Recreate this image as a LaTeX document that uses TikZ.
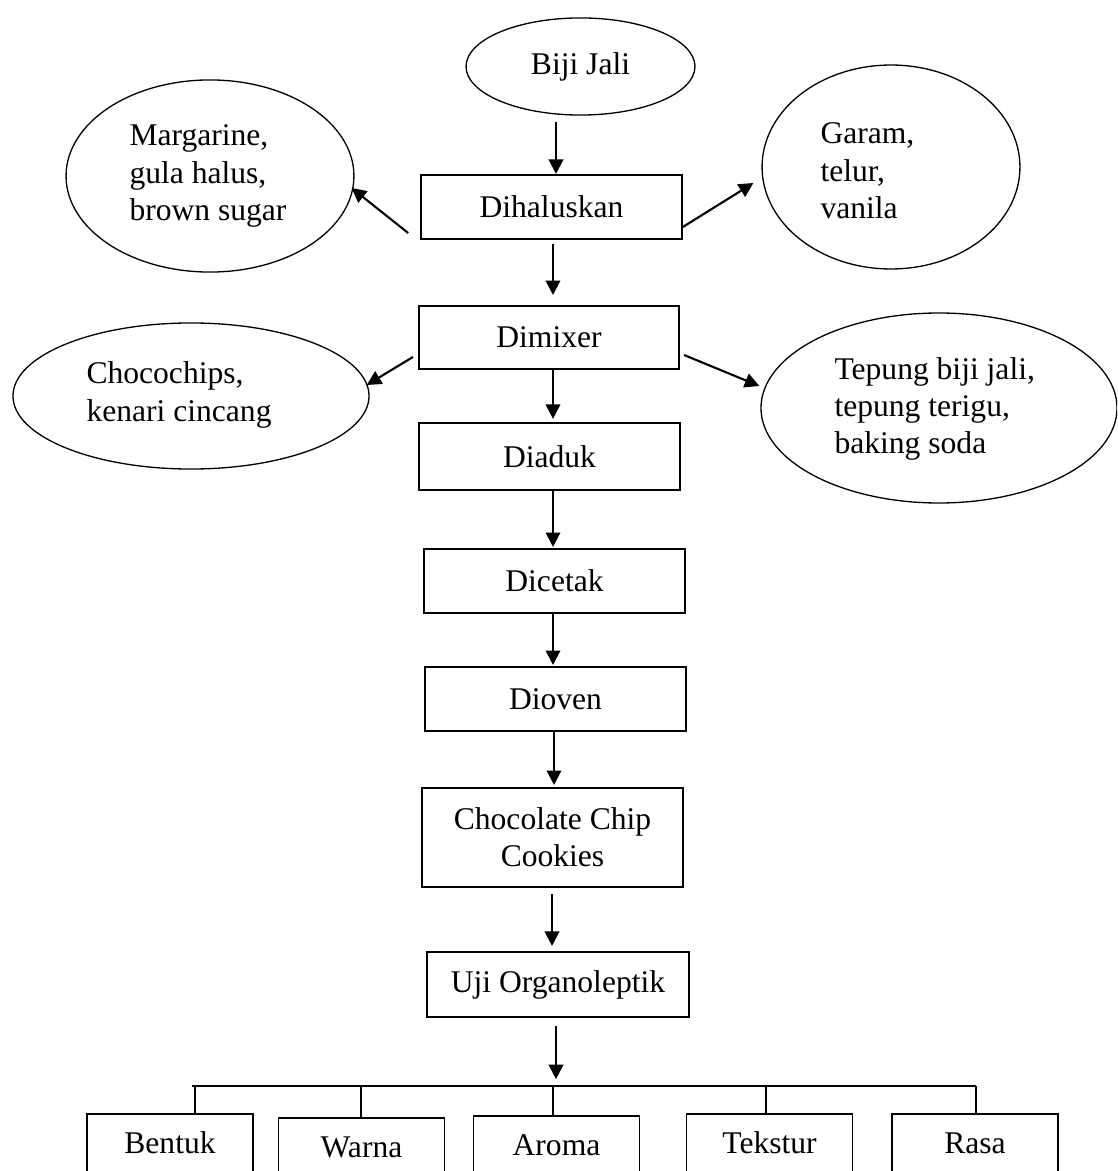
\documentclass[tikz,border=0pt]{standalone}
\usepackage{fontspec}
\setmainfont{Liberation Serif}
\usetikzlibrary{shapes.geometric,arrows.meta,calc}

\tikzset{
  proses/.style={draw, line width=0.8pt, inner sep=0pt, minimum width=99pt, minimum height=24.3pt, align=center},
  bahan/.style={draw, ellipse, line width=0.5pt, inner sep=0pt},
  isi/.style={align=left, anchor=west, inner sep=0pt},
  parameter/.style={draw, line width=0.6pt, inner sep=0pt, anchor=north, minimum width=63pt, text height=15.2pt, text depth=18pt},
  panah/.style={-{Triangle[length=5.5pt,width=5.5pt]}, line width=0.8pt},
}

\begin{document}
\begin{tikzpicture}[x=0.38pt,y=-0.38pt,font={\fontsize{12}{14.2}\selectfont}]
   \useasboundingbox (0,0) rectangle (1117,1171);
   \clip (0,0) rectangle (1117,1171);

   % alur utama
   \node[bahan, minimum width=87pt, minimum height=36.9pt] (bijijali) at (580.5,66.5) {Biji Jali};
   \node[proses] (dihaluskan) at (551.5,207) {Dihaluskan};
   \node[proses, minimum width=98.8pt, minimum height=23.9pt] (dimixer) at (549,337.5) {Dimixer};
   \node[proses, minimum height=25.5pt] (diaduk) at (549.5,456.5) {Diaduk};
   \node[proses] (dicetak) at (554.5,581) {Dicetak};
   \node[proses] (dioven) at (555.5,699) {Dioven};
   \node[proses, minimum height=37.6pt] (cookies) at (552.5,837.5) {Chocolate Chip\\Cookies};
   \node[proses, minimum width=99.6pt, minimum height=24.7pt] (uji) at (558,984.5) {Uji Organoleptik};

   % bahan tambahan
   \node[bahan, minimum width=109.4pt, minimum height=73pt] (margarine) at (210,176) {};
   \node[isi] (tmargarine) at (129,176) {Margarine,\\gula halus,\\brown sugar};
   \node[bahan, minimum width=98pt, minimum height=77.5pt] (garam) at (891,167) {};
   \node[isi] (tgaram) at (820,171) {Garam,\\telur,\\vanila};
   \node[bahan, minimum width=135.3pt, minimum height=55.5pt] (chocochips) at (191,396) {};
   \node[isi] (tchocochips) at (86,395) {Chocochips,\\kenari cincang};
   \node[bahan, minimum width=135.3pt, minimum height=72.2pt] (tepung) at (939,408) {};
   \node[isi] (ttepung) at (834,409) {Tepung biji jali,\\tepung terigu,\\baking soda};

   % panah
   \draw[panah] ($(bijijali.south)+(-24.5,6)$) -- ($(dihaluskan.north)+(4.5,0)$);
   \draw[panah] ($(dihaluskan.south)+(1.5,4)$) -- ($(dimixer.north)+(4,-10)$);
   \draw[panah] ($(dimixer.south)+(4,0)$) -- ($(diaduk.north)+(3.5,-3)$);
   \draw[panah] ($(diaduk.south)+(3.5,0)$) -- ($(dicetak.north)+(-1.5,-1)$);
   \draw[panah] ($(dicetak.south)+(-1.5,0)$) -- ($(dioven.north)+(-2.5,-1)$);
   \draw[panah] ($(dioven.south)+(-1.5,0)$) -- ($(cookies.north)+(1.5,-2)$);
   \draw[panah] ($(cookies.south)+(-0.5,6)$) -- ($(uji.north)+(-6,-5)$);

   \draw[panah] ($(dihaluskan.south west)+(-12,-7)$) -- ($(margarine.east)+(-3,12)$);
   \draw[panah] ($(dihaluskan.south east)+(0,-13)$) -- ($(garam.west)+(-8,16)$);
   \draw[panah] ($(dimixer.west)+(-5,19.5)$) -- ($(chocochips.east)+(-3,-11)$);
   \draw[panah] ($(dimixer.east)+(4,17.5)$) -- ($(tepung.west)+(-1,-22)$);

   % uji organoleptik
   \coordinate (cabangkiri) at (192,1086);
   \coordinate (cabangkanan) at (976,1086);
   \draw[panah, shorten >=3pt] ($(uji.south)+(-2,8)$) -- ($(uji.south)+(-2,69)$);
   \draw[line width=0.6pt] (cabangkiri) -- (cabangkanan);

   \node[parameter] (bentuk) at (170,1113) {Bentuk};
   \node[parameter] (warna) at (361.5,1117) {Warna};
   \node[parameter] (aroma) at (556.5,1115) {Aroma};
   \node[parameter] (tekstur) at (769.5,1113) {Tekstur};
   \node[parameter] (rasa) at (975,1113) {Rasa};

   \draw[line width=0.6pt] ($(cabangkiri)+(3,0)$) -- ($(bentuk.north)+(25,0)$);
   \draw[line width=0.6pt] ($(warna.north)+(-0.5,-31)$) -- ($(warna.north)+(-0.5,0)$);
   \draw[line width=0.6pt] ($(aroma.north)+(-3.5,-29)$) -- ($(aroma.north)+(-3.5,0)$);
   \draw[line width=0.6pt] ($(tekstur.north)+(-3.5,-27)$) -- ($(tekstur.north)+(-3.5,0)$);
   \draw[line width=0.6pt] (cabangkanan) -- ($(rasa.north)+(1,0)$);
\end{tikzpicture}
\end{document}
